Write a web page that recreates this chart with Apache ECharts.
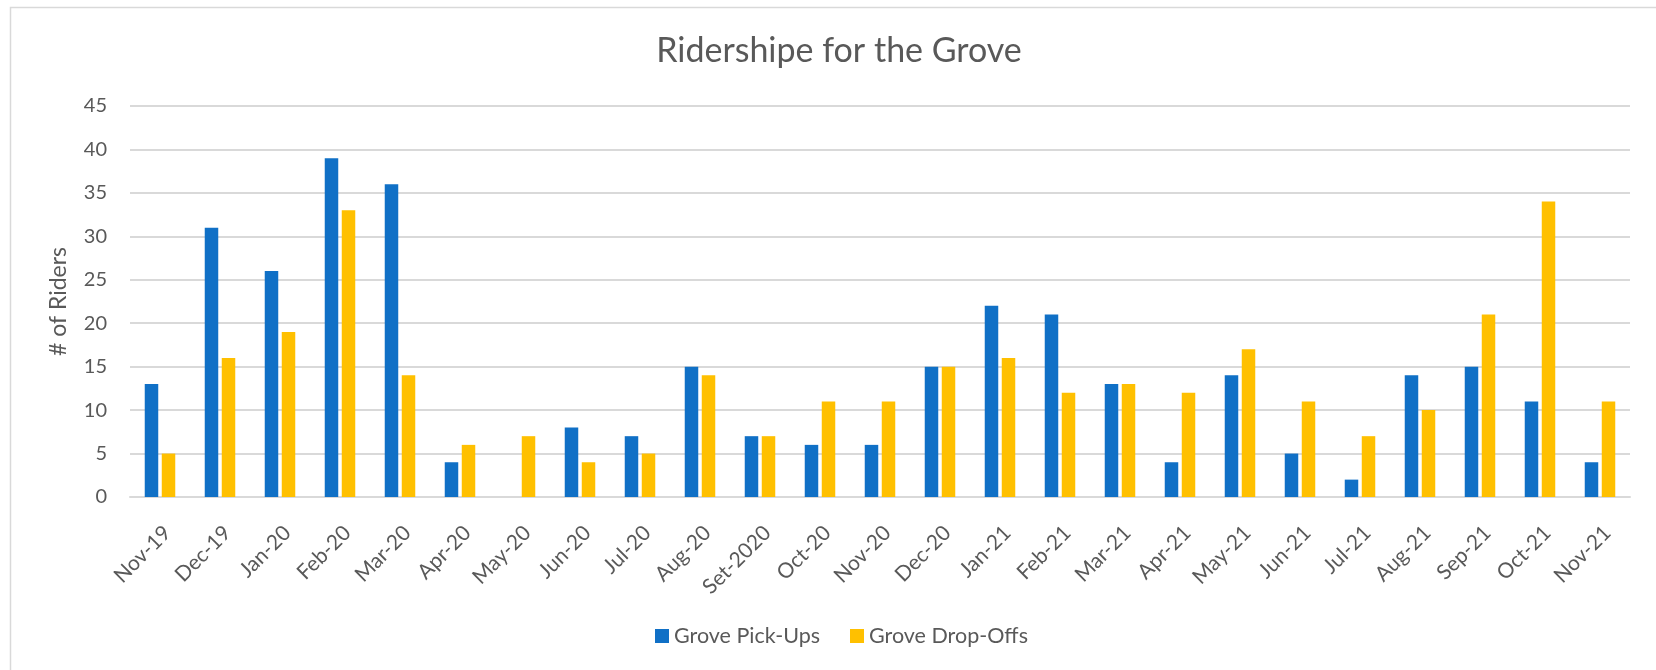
<!DOCTYPE html>
<html>
<head>
<meta charset="utf-8">
<script src="https://cdn.jsdelivr.net/npm/echarts@6/dist/echarts.min.js"></script>
<style>
    html, body { margin: 0; padding: 0; background: #fff; }
    #chart { width: 1656px; height: 670px; }
</style>
</head>
<body>
<div id="chart"></div>
<script>
// Ridership data
const months = ['Nov-19', 'Dec-19', 'Jan-20', 'Feb-20', 'Mar-20', 'Apr-20', 'May-20', 'Jun-20', 'Jul-20',
    'Aug-20', 'Set-2020', 'Oct-20', 'Nov-20', 'Dec-20', 'Jan-21', 'Feb-21', 'Mar-21', 'Apr-21', 'May-21',
    'Jun-21', 'Jul-21', 'Aug-21', 'Sep-21', 'Oct-21', 'Nov-21'];
const pickUps = [13, 31, 26, 39, 36, 4, null, 8, 7, 15, 7, 6, 6, 15, 22, 21, 13, 4, 14, 5, 2, 14, 15, 11, 4];
const dropOffs = [5, 16, 19, 33, 14, 6, 7, 4, 5, 14, 7, 11, 11, 15, 16, 12, 13, 12, 17, 11, 7, 10, 21, 34, 11];
const yTicks = { min: 0, max: 45, interval: 5 };

const font = 'Lato, "Open Sans", sans-serif';
const textColor = '#595959';

const chart = echarts.init(document.getElementById('chart'));
chart.setOption({
    animation: false,
    textStyle: { fontFamily: font },
    graphic: [{
        // outer chart frame (right/bottom edges fall outside the picture)
        type: 'rect',
        left: 8, top: 5,
        shape: { width: 1700, height: 700 },
        style: { fill: 'none', stroke: '#d9d9d9', lineWidth: 1.5 },
        silent: true
    }],
    title: {
        text: 'Ridershipe for the Grove',
        left: 834,
        top: 29,
        textAlign: 'center',
        textStyle: { fontFamily: font, fontSize: 34, fontWeight: 'normal', color: textColor }
    },
    legend: {
        data: ['Grove Pick-Ups', 'Grove Drop-Offs'],
        top: 620,
        left: 650,
        itemWidth: 14,
        itemHeight: 14,
        itemGap: 30,
        icon: 'rect',
        textStyle: { fontFamily: font, fontSize: 21.5, color: textColor }
    },
    grid: { left: 130, right: 26, top: 106, bottom: 173, containLabel: false },
    xAxis: {
        type: 'category',
        data: months,
        axisTick: { show: false },
        axisLine: { lineStyle: { color: '#d9d9d9', width: 2 } },
        axisLabel: { rotate: 45, margin: 25, fontSize: 21, color: textColor, interval: 0, verticalAlign: 'top' }
    },
    yAxis: {
        type: 'value',
        min: yTicks.min,
        max: yTicks.max,
        interval: yTicks.interval,
        name: '# of Riders',
        nameLocation: 'middle',
        nameGap: 60,
        nameTextStyle: { fontFamily: font, fontSize: 23, color: textColor },
        axisLine: { show: false },
        axisTick: { show: false },
        axisLabel: { margin: 23, fontSize: 20, color: textColor },
        splitLine: { lineStyle: { color: '#d9d9d9', width: 2 } }
    },
    series: [{
        name: 'Grove Pick-Ups',
        type: 'bar',
        data: pickUps,
        barWidth: 13.5,
        barGap: '26%',
        itemStyle: { color: '#1070C6' }
    }, {
        name: 'Grove Drop-Offs',
        type: 'bar',
        data: dropOffs,
        barWidth: 13.5,
        itemStyle: { color: '#FFC000' }
    }]
});

window.addEventListener('resize', () => chart.resize());
</script>
</body>
</html>
